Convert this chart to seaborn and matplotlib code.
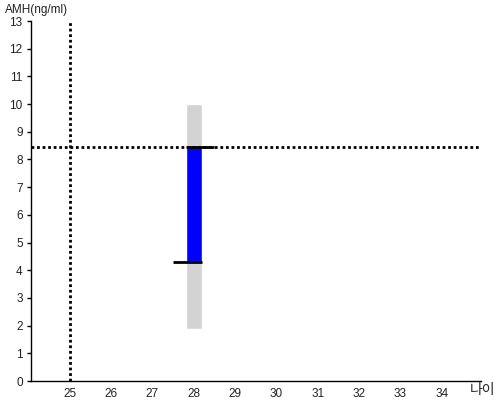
import matplotlib
matplotlib.use('Agg')
import matplotlib.pyplot as plt
import seaborn as sns

# 데이터
age = [28]
range_low = [1.88]
range_high = [10.0]
amh_low = [4.3]
amh_high = [8.45]
ref_age = 25
ref_amh = 8.45
xticks = list(range(25, 35))
yticks = list(range(0, 14))

sns.set_theme(style='ticks')
plt.rcParams['font.family'] = ['Liberation Sans', 'Noto Sans CJK KR']

fig = plt.figure(figsize=(5, 4), dpi=100)
ax = fig.add_axes([0.062, 0.0475, 0.9, 0.9])

# 회색 범위
ax.bar(age, [h - l for l, h in zip(range_low, range_high)], bottom=range_low,
       width=0.39, color='#d3d3d3', zorder=1)
# 파란 막대
ax.bar(age, [h - l for l, h in zip(amh_low, amh_high)], bottom=amh_low,
       width=0.39, color='#0000ff', zorder=2)

# 막대 끝선
for a, lo, hi in zip(age, amh_low, amh_high):
    ax.plot([a - 0.2, a + 0.5], [hi, hi], color='black', lw=2, zorder=3, solid_capstyle='butt')
    ax.plot([a - 0.5, a + 0.2], [lo, lo], color='black', lw=2, zorder=3, solid_capstyle='butt')

# 기준선
ax.axvline(ref_age, color='black', lw=2, dashes=(1, 1), zorder=4)
ax.axhline(ref_amh, color='black', lw=2, dashes=(1, 1), zorder=4)

ax.set_xlim(24.06, 34.95)
ax.set_ylim(0, 13)
ax.set_xticks(xticks)
ax.set_yticks(yticks)
ax.tick_params(axis='x', length=0, pad=5, labelsize=8.5, colors='#222222')
ax.tick_params(axis='y', length=3, width=1, pad=3, labelsize=8.5, colors='#222222')
ax.tick_params(axis='both', color='black')
for s in ['left', 'bottom']:
    ax.spines[s].set_color('black')
    ax.spines[s].set_linewidth(1)
sns.despine(ax=ax)

fig.text(0.01, 0.975, 'AMH(ng/ml)', fontsize=8.5, color='#222222', va='center', ha='left')
fig.text(0.99, 0.024, '나이', fontsize=10, color='#222222', va='center', ha='right')

fig.savefig('out.png', dpi=100)
